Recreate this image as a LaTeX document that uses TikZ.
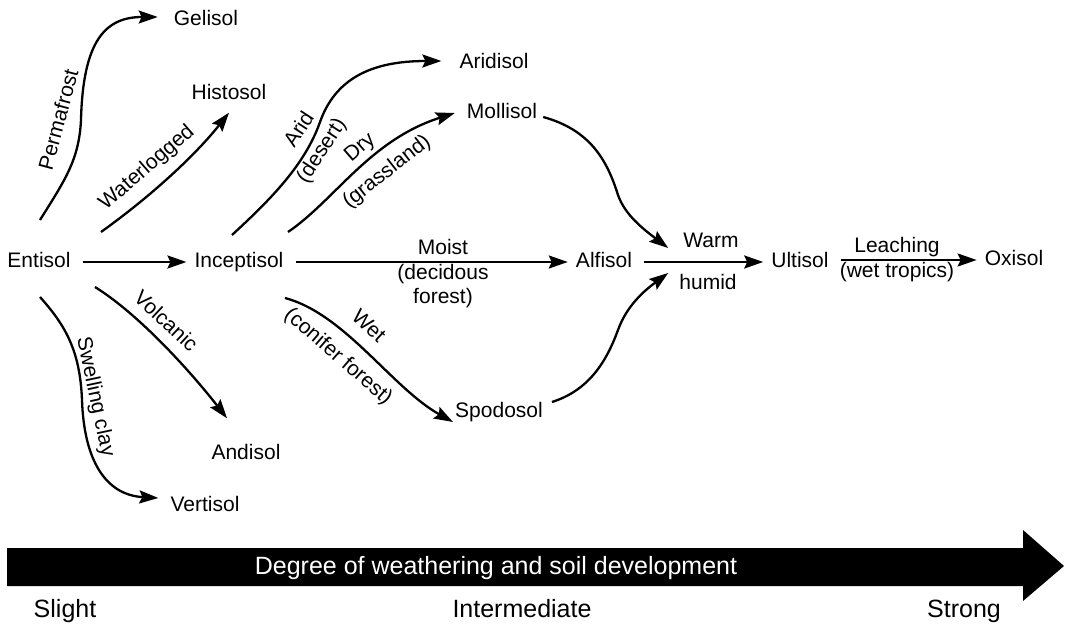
\documentclass[tikz,border=0pt]{standalone}
\usepackage{fontspec}
\setmainfont{Liberation Sans}
\usepackage{tikz}
\usetikzlibrary{arrows.meta}
\tikzset{
  soil/.style={font=\fontsize{21}{25}\selectfont, inner sep=3pt, text height=15pt, text depth=4pt},
  cond/.style={font=\fontsize{21}{25}\selectfont, inner sep=1pt, text height=15pt, text depth=4pt},
  deg/.style={font=\fontsize{25}{30}\selectfont, inner sep=1pt, text height=18pt, text depth=5pt},
  Fa/.style={draw=black, line width=2.3pt, -{Stealth[length=19pt,width=13pt,inset=3pt]}},
  Fs/.style={Fa, shorten <=9pt, shorten >=5pt}
}

\begin{document}
\begin{tikzpicture}[x=1pt, y=-1pt]
    \useasboundingbox (0,0) rectangle (1066,628);
    \node[soil] (ent) at (39,262) {Entisol};
    \node[soil] (inc) at (239,262) {Inceptisol};
    \node[soil] (gel) at (206,20) {Gelisol};
    \node[soil] (his) at (229,94) {Histosol};
    \node[soil] (ari) at (494,63) {Aridisol};
    \node[soil] (mol) at (502,113) {Mollisol};
    \node[soil] (alf) at (604,262) {Alfisol};
    \node[soil] (ult) at (800,262) {Ultisol};
    \node[soil] (oxi) at (1014,260) {Oxisol};
    \node[soil] (spo) at (499,412) {Spodosol};
    \node[soil] (and) at (246,454) {Andisol};
    \node[soil] (ver) at (205,506) {Vertisol};
    \coordinate (jw) at ([shift={(33,-14)}]alf.east);
    \coordinate (jh) at ([shift={(33,11)}]alf.east);

    \draw[Fs] (ent) -- (inc);
    \draw[Fs] (inc) -- (alf);
    \draw[Fs] (alf) -- (ult);
    \draw[Fs] (ult.east |- oxi) -- (oxi.west);

    \draw[Fa] ([shift={(1,-42)}]ent.center) .. controls +(25,-40) and +(-2,40) .. (81,120)
      .. controls +(2,-80) and +(-52,0) .. ([shift={(-13,-3)}]gel.west);
    \draw[Fa] ([shift={(62,-30)}]ent.center) .. controls +(49,-35) and +(-34,43) .. ([shift={(0,6)}]his.south);
    \draw[Fa] ([shift={(56,25)}]ent.center) .. controls +(45,28) and +(-35,-45) .. ([shift={(-19,-23)}]and.north);
    \draw[Fa] ([shift={(1,35)}]ent.center) .. controls +(25,28) and +(-2,-50) .. (82,400)
      .. controls +(2,60) and +(-53,-3) .. ([shift={(-9,-8)}]ver.west);
    \draw[Fa] ([shift={(-7,-27)}]inc.center) .. controls +(38,-35) and +(-15,43) .. (320,122)
      .. controls +(15,-42) and +(-72,0) .. ([shift={(-15,-2)}]ari.west);
    \draw[Fa] ([shift={(49,-30)}]inc.center) .. controls +(47,-32) and +(-85,27) .. ([shift={(-9,0)}]mol.west);
    \draw[Fa] ([shift={(46,36)}]inc.center) .. controls +(60,16) and +(-61,-34) .. ([shift={(1,10)}]spo.west);
    \draw[Fa] ([shift={(3,4)}]mol.east) .. controls +(47,13) and +(-11,-35) .. (618,195)
      .. controls +(7,20) and +(-25,-19) .. (jw);
    \draw[Fa] ([shift={(6,-10)}]spo.east) .. controls +(38,-12) and +(-11,30) .. (618,330)
      .. controls +(9,-25) and +(-23,17) .. (jh);

    \node[cond, rotate=75] (c_perm) at (60,120) {Permafrost};
    \node[cond, rotate=41] (c_wat) at (147,168) {Waterlogged};
    \node[cond, rotate=-43] (c_vol) at (165,322) {Volcanic};
    \node[cond, rotate=-78] (c_swe) at (95,397) {Swelling clay};
    \node[cond, rotate=57] (c_arid) at (300,130) {Arid};
    \node[cond, rotate=57] (c_des) at (322,151) {(desert)};
    \node[cond, rotate=41] (c_dry) at (360,148) {Dry};
    \node[cond, rotate=38] (c_gra) at (387,172) {(grassland)};
    \node[cond, rotate=-43] (c_wet) at (368,327) {Wet};
    \node[cond, rotate=-41] (c_con) at (338,357) {(conifer forest)};
    \node[cond] (c_moi) at (443,249) {Moist};
    \node[cond] (c_dec) at (443,274) {(decidous};
    \node[cond] (c_for) at (443,298) {forest)};
    \node[cond] (c_warm) at (711,242) {Warm};
    \node[cond] (c_hum) at (708,284) {humid};
    \node[cond] (c_lea) at (897,247) {Leaching};
    \node[cond] (c_tro) at (897,272) {(wet tropics)};

    \fill (7,548) -- (1023,548) -- (1023,530) -- (1064,566) -- (1023,601) -- (1023,586) -- (7,586) -- cycle;
    \node[deg, text=white] (d_deg) at (496,568) {Degree of weathering and soil development};
    \node[deg] (d_sli) at (65,611) {Slight};
    \node[deg] (d_int) at (522,611) {Intermediate};
    \node[deg] (d_str) at (964,611) {Strong};
  \end{tikzpicture}
\end{document}
